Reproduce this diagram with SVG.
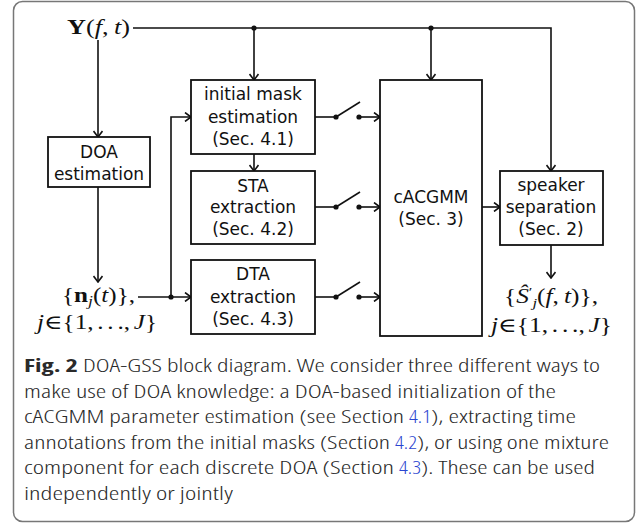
<svg xmlns="http://www.w3.org/2000/svg" width="639" height="523" viewBox="0 0 639 523">
<defs>
<marker id="ar" markerWidth="10" markerHeight="10" refX="9" refY="5" orient="auto" markerUnits="userSpaceOnUse">
<path d="M3,0.5 L9,5 L3,9.5" fill="none" stroke="#111" stroke-width="1.6"/>
</marker>
<style>
.box{fill:#fff;stroke:#111;stroke-width:1.8}
.ln{fill:none;stroke:#111;stroke-width:1.6}
.arr{fill:none;stroke:#111;stroke-width:1.6;marker-end:url(#ar)}
.t{font-family:"DejaVu Sans","Open Sans",sans-serif;font-size:17px;fill:#111;text-anchor:middle}
.m{font-family:"Liberation Serif","DejaVu Serif",serif;font-size:20px;fill:#111}
.i{font-style:italic}
.b{font-weight:bold}
.cap{font-family:"Open Sans","Noto Sans",sans-serif;font-size:18.5px;font-weight:300;font-stretch:87%;fill:#2a2a2a}
.cap.b{font-weight:700}
.lk{fill:#2b45d0}
.dot{fill:#111}
</style>
</defs>
<rect x="13.5" y="1.5" width="621" height="520" rx="9" fill="#fff" stroke="#777" stroke-width="1.5"/>

<g id="connectors">
<polyline class="arr" points="133,28 551,28 551,171"/>
<line class="arr" x1="254" y1="28" x2="254" y2="80"/>
<line class="arr" x1="431" y1="28" x2="431" y2="80"/>
<circle class="dot" cx="254" cy="28" r="2.6"/>
<circle class="dot" cx="431" cy="28" r="2.6"/>
<line class="arr" x1="98" y1="40" x2="98" y2="137"/>
<line class="arr" x1="98" y1="187" x2="98" y2="282"/>
<line class="arr" x1="138" y1="297" x2="191" y2="297"/>
<polyline class="arr" points="171,297 171,117 191,117"/>
<circle class="dot" cx="171" cy="297" r="2.6"/>
<line class="arr" x1="254" y1="154" x2="254" y2="171"/>
<line class="ln" x1="315" y1="117" x2="336" y2="117"/>
<line class="ln" x1="336" y1="117" x2="360" y2="102"/>
<circle class="dot" cx="336" cy="117" r="2.6"/>
<circle class="dot" cx="359" cy="117" r="2.6"/>
<line class="arr" x1="359" y1="117" x2="380" y2="117"/>
<line class="ln" x1="315" y1="207" x2="336" y2="207"/>
<line class="ln" x1="336" y1="207" x2="360" y2="192"/>
<circle class="dot" cx="336" cy="207" r="2.6"/>
<circle class="dot" cx="359" cy="207" r="2.6"/>
<line class="arr" x1="359" y1="207" x2="380" y2="207"/>
<line class="ln" x1="315" y1="297" x2="336" y2="297"/>
<line class="ln" x1="336" y1="297" x2="360" y2="282"/>
<circle class="dot" cx="336" cy="297" r="2.6"/>
<circle class="dot" cx="359" cy="297" r="2.6"/>
<line class="arr" x1="359" y1="297" x2="380" y2="297"/>
<line class="arr" x1="482" y1="207" x2="500" y2="207"/>
<line class="arr" x1="551" y1="245" x2="551" y2="278"/>
</g>

<g id="input">
<text class="m" x="67" y="34" textLength="63" lengthAdjust="spacingAndGlyphs"><tspan class="b">Y</tspan>(<tspan class="i">f</tspan>,<tspan class="i" dx="4">t</tspan>)</text>
</g>

<g id="doa">
<rect class="box" x="48" y="137" width="102" height="50"/>
<text class="t" x="99" y="158">DOA</text>
<text class="t" x="99" y="180">estimation</text>
</g>

<g id="doas">
<text class="m" x="62" y="302" textLength="73" lengthAdjust="spacingAndGlyphs">{<tspan class="b">n</tspan><tspan class="i" font-size="14" dy="4">j</tspan><tspan dy="-4">(</tspan><tspan class="i">t</tspan>)},</text>
<text class="m" x="37" y="329" textLength="120" lengthAdjust="spacingAndGlyphs"><tspan class="i">j</tspan>∈{1,<tspan dx="3">.</tspan><tspan dx="3">.</tspan><tspan dx="3">.</tspan>,<tspan class="i" dx="3">J</tspan>}</text>
</g>

<g id="initmask">
<rect class="box" x="191" y="80" width="124" height="74"/>
<text class="t" x="253" y="100">initial mask</text>
<text class="t" x="253" y="123">estimation</text>
<text class="t" x="253" y="145">(Sec. 4.1)</text>
</g>

<g id="sta">
<rect class="box" x="191" y="171" width="124" height="73"/>
<text class="t" x="253" y="192">STA</text>
<text class="t" x="253" y="213">extraction</text>
<text class="t" x="253" y="235">(Sec. 4.2)</text>
</g>

<g id="dta">
<rect class="box" x="191" y="260" width="124" height="74"/>
<text class="t" x="253" y="280">DTA</text>
<text class="t" x="253" y="303">extraction</text>
<text class="t" x="253" y="325">(Sec. 4.3)</text>
</g>

<g id="cacgmm">
<rect class="box" x="380" y="80" width="102" height="256"/>
<text class="t" x="431" y="203" font-size="18">cACGMM</text>
<text class="t" x="431" y="225">(Sec. 3)</text>
</g>

<g id="speaker">
<rect class="box" x="500" y="171" width="103" height="74"/>
<text class="t" x="551" y="191">speaker</text>
<text class="t" x="551" y="213">separation</text>
<text class="t" x="551" y="235">(Sec. 2)</text>
</g>

<g id="outputs">
<text class="m" x="504" y="303" textLength="94" lengthAdjust="spacingAndGlyphs">{<tspan class="i">Ŝ</tspan><tspan font-size="13" dy="-7">′</tspan><tspan class="i" font-size="13" dy="11">j</tspan><tspan dy="-4">(</tspan><tspan class="i">f</tspan>,<tspan class="i" dx="4">t</tspan>)},</text>
<text class="m" x="491" y="332" textLength="121" lengthAdjust="spacingAndGlyphs"><tspan class="i">j</tspan>∈{1,<tspan dx="3">.</tspan><tspan dx="3">.</tspan><tspan dx="3">.</tspan>,<tspan class="i" dx="3">J</tspan>}</text>
</g>

<g id="caption">
<text class="cap b" x="24" y="372" textLength="54" lengthAdjust="spacingAndGlyphs">Fig. 2</text>
<text class="cap" x="83" y="372" textLength="517" lengthAdjust="spacingAndGlyphs">DOA-GSS block diagram. We consider three different ways to</text>
<text class="cap" x="24" y="397.5" textLength="532" lengthAdjust="spacingAndGlyphs">make use of DOA knowledge: a DOA-based initialization of the</text>
<text class="cap" x="24" y="423" textLength="380" lengthAdjust="spacingAndGlyphs">cACGMM parameter estimation (see Section</text>
<text class="cap lk" x="409" y="423" textLength="22" lengthAdjust="spacingAndGlyphs">4.1</text>
<text class="cap" x="431" y="423" textLength="145" lengthAdjust="spacingAndGlyphs">), extracting time</text>
<text class="cap" x="24" y="448.5" textLength="366" lengthAdjust="spacingAndGlyphs">annotations from the initial masks (Section</text>
<text class="cap lk" x="395" y="448.5" textLength="22" lengthAdjust="spacingAndGlyphs">4.2</text>
<text class="cap" x="417" y="448.5" textLength="192" lengthAdjust="spacingAndGlyphs">), or using one mixture</text>
<text class="cap" x="24" y="474" textLength="370" lengthAdjust="spacingAndGlyphs">component for each discrete DOA (Section</text>
<text class="cap lk" x="399" y="474" textLength="22" lengthAdjust="spacingAndGlyphs">4.3</text>
<text class="cap" x="421" y="474" textLength="174" lengthAdjust="spacingAndGlyphs">). These can be used</text>
<text class="cap" x="24" y="499.5" textLength="209" lengthAdjust="spacingAndGlyphs">independently or jointly</text>
</g>
</svg>
